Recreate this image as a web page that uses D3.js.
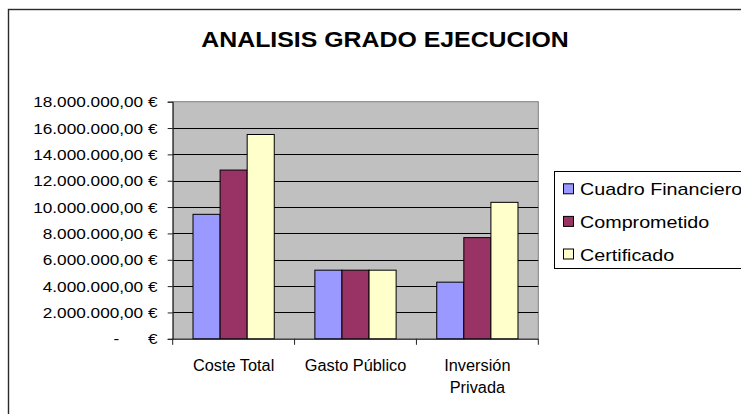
<!DOCTYPE html>
<html>
<head>
<meta charset="utf-8">
<script src="https://cdn.jsdelivr.net/npm/d3@7"></script>
<style>
  html, body { margin: 0; padding: 0; background: #fff; }
  svg { display: block; font-family: Arial, "Liberation Sans", sans-serif; }
</style>
</head>
<body>
<svg id="chart" width="741" height="414"></svg>
<script>
const title = "ANALISIS GRADO EJECUCION";
const categories = ["Coste Total", "Gasto Público", "Inversión Privada"];
const categoryLines = [["Coste Total"], ["Gasto Público"], ["Inversión", "Privada"]];
const seriesNames = ["Cuadro Financiero", "Comprometido", "Certificado"];
const cuadroFinanciero = [9450000, 5210000, 4300000];
const comprometido = [12810000, 5210000, 7680000];
const certificado = [15510000, 5210000, 10360000];
const seriesValues = [cuadroFinanciero, comprometido, certificado];
const seriesColors = ["#9999FF", "#993366", "#FFFFCC"];
const yTicks = [0, 2000000, 4000000, 6000000, 8000000, 10000000, 12000000, 14000000, 16000000, 18000000];

const svg = d3.select("#chart");

// outer chart border
svg.append("rect")
  .attr("x", 8.5).attr("y", 9.5)
  .attr("width", 760).attr("height", 420)
  .attr("fill", "#fff")
  .attr("stroke", "#2a2a2a").attr("stroke-width", 1.4);

const plot = { left: 172.7, right: 538.3, top: 101.7, bottom: 338.8 };

const x0 = d3.scaleBand().domain(categories).range([plot.left, plot.right]).paddingInner(0).paddingOuter(0);
const catW = x0.bandwidth();
const barW = catW / 4.5;
const x1 = d3.scaleBand().domain(seriesNames).range([0.75 * barW, catW - 0.75 * barW]).padding(0);
const y = d3.scaleLinear().domain([0, 18000000]).range([plot.bottom, plot.top]);

// plot background
svg.append("rect")
  .attr("x", plot.left).attr("y", plot.top)
  .attr("width", plot.right - plot.left).attr("height", plot.bottom - plot.top)
  .attr("fill", "#C0C0C0").attr("stroke", "#808080").attr("stroke-width", 1);

// gridlines
svg.append("g").selectAll("line")
  .data(yTicks.filter(d => d > 0 && d < 18000000))
  .join("line")
  .attr("x1", plot.left).attr("x2", plot.right)
  .attr("y1", d => Math.round(y(d)) + 0.5).attr("y2", d => Math.round(y(d)) + 0.5)
  .attr("stroke", "#000").attr("stroke-width", 1);

// bars
const rows = categories.map((c, i) => ({ cat: c, vals: seriesNames.map((s, j) => ({ s, j, v: seriesValues[j][i] })) }));
svg.append("g").selectAll("g")
  .data(rows)
  .join("g")
  .attr("transform", d => `translate(${x0(d.cat)},0)`)
  .selectAll("rect")
  .data(d => d.vals)
  .join("rect")
  .attr("x", d => x1(d.s))
  .attr("width", x1.bandwidth())
  .attr("y", d => y(d.v))
  .attr("height", d => y(0) - y(d.v))
  .attr("fill", d => seriesColors[d.j])
  .attr("stroke", "#000").attr("stroke-width", 1);

// y axis
const fmt = v => v === 0 ? "-      €" :
  d3.format(",.2f")(v).replace(/,/g, "#").replace(/\./g, ",").replace(/#/g, ".") + " €";
const yAxis = d3.axisLeft(y).tickValues(yTicks).tickSize(5).tickPadding(0).tickFormat(() => "");
const yg = svg.append("g").attr("transform", `translate(${plot.left},0)`).call(yAxis);
yg.select(".domain").attr("stroke", "#222");
yg.selectAll(".tick line").attr("stroke", "#222");
const yLab = svg.append("g").selectAll("g")
  .data(yTicks)
  .join("g")
  .attr("transform", d => `translate(157.5,${y(d)}) scale(1.125,1)`);
yLab.append("text")
  .attr("text-anchor", "end")
  .attr("dy", "0.36em")
  .style("white-space", "pre")
  .attr("font-size", 15.3)
  .attr("fill", "#000")
  .text(fmt);

// x axis
const xAxis = d3.axisBottom(x0).tickSize(0).tickFormat(() => "");
const xg = svg.append("g").attr("transform", `translate(0,${plot.bottom})`).call(xAxis);
xg.select(".domain").remove();
xg.append("line").attr("x1", plot.left).attr("x2", plot.right).attr("y1", 0.5).attr("y2", 0.5).attr("stroke", "#222");
const bounds = [plot.left].concat(categories.map(c => x0(c) + catW));
xg.selectAll(".bt").data(bounds).join("line").attr("class", "bt")
  .attr("x1", d => d).attr("x2", d => d).attr("y1", 0).attr("y2", 6).attr("stroke", "#222");

svg.append("g").selectAll("text")
  .data(categories.map((c, i) => ({ c, lines: categoryLines[i] })))
  .join("text")
  .attr("text-anchor", "middle")
  .attr("font-size", 16)
  .attr("fill", "#000")
  .attr("transform", d => `translate(${x0(d.c) + catW / 2},370.5) scale(1.02,1)`)
  .selectAll("tspan")
  .data(d => d.lines)
  .join("tspan")
  .attr("x", 0)
  .attr("y", (d, i) => i * 22.5)
  .text(d => d);

// title
svg.append("g").attr("transform", "translate(385,47.3) scale(1.13,1)")
  .append("text")
  .attr("text-anchor", "middle")
  .attr("font-size", 22)
  .attr("font-weight", "bold")
  .attr("fill", "#000")
  .text(title);

// legend
const lg = svg.append("g");
lg.append("rect").attr("x", 554.5).attr("y", 171.5).attr("width", 200).attr("height", 97)
  .attr("fill", "#fff").attr("stroke", "#000").attr("stroke-width", 1);
const ly = d3.scalePoint().domain(seriesNames).range([189.3, 254.5]);
const items = lg.selectAll("g.item").data(seriesNames).join("g").attr("class", "item")
  .attr("transform", d => `translate(0,${ly(d)})`);
items.append("rect").attr("x", 563.5).attr("y", -5.5).attr("width", 10).attr("height", 10)
  .attr("fill", (d, i) => seriesColors[i]).attr("stroke", "#000").attr("stroke-width", 1);
items.append("g").attr("transform", "translate(580,0) scale(1.16,1)")
  .append("text")
  .attr("dy", "0.36em")
  .attr("font-size", 17)
  .attr("fill", "#000")
  .text(d => d);
</script>
</body>
</html>
